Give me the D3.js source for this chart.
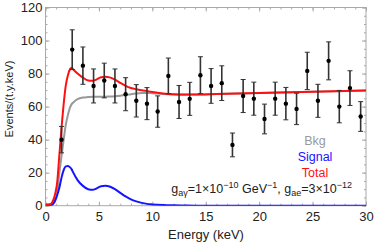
<!DOCTYPE html>
<html>
<head>
<meta charset="utf-8">
<style>
  body { margin: 0; padding: 0; background: #fff; }
  text { font-family: "Liberation Sans", Arial, sans-serif; }
</style>
</head>
<body>
<svg width="374" height="245"></svg>
<script src="https://d3js.org/d3.v7.min.js"></script>
<script>

// measured spectrum (bins of 1 keV)
var binE   = [1.5, 2.5, 3.5, 4.5, 5.5, 6.5, 7.5, 8.5, 9.5, 10.5, 11.5, 12.5, 13.5, 14.5, 15.5,
              16.5, 17.5, 18.5, 19.5, 20.5, 21.5, 22.5, 23.5, 24.5, 25.5, 26.5, 27.5, 28.5, 29.5]
var binVal = [40, 94.5, 84.8, 72.5, 75.8, 72.5, 67.5, 63.5, 61.8, 57, 78.6, 62.8, 64.7, 79, 72.5,
              74.2, 36.8, 66.4, 64.8, 52.5, 64.8, 61.8, 58.6, 81.6, 63.5, 87.7, 60, 71.2, 54]
var binErr = [8, 12, 11.3, 10.3, 10.5, 10.3, 10, 9.8, 9.7, 9.5, 10.8, 10, 10, 11.2, 10.5,
              10.5, 7.2, 10, 10, 9, 10, 9.8, 9.5, 11.3, 10, 11.5, 9.8, 10.5, 9]

// model curves
var curveE  = [0, 0.3, 0.5, 0.7, 0.9, 1.1, 1.3, 1.5, 1.7, 1.9, 2.1, 2.3, 2.45, 2.6, 3.0, 3.5, 4.0, 4.4,
               4.8, 5.2, 5.6, 6.0, 6.5, 7.0, 7.5, 8.0, 8.5, 9.0, 9.5, 10, 11, 12, 13, 14, 16, 18,
               20, 22, 24, 26, 28, 30]
var signal  = [0, 0, 0.2, 1, 3, 6.5, 11, 17, 21.5, 23.8, 24, 23.2, 22, 20, 15.5, 12, 10, 9.6,
               10.5, 11.8, 12.1, 11.6, 10, 7.8, 5.6, 3.8, 2.6, 1.7, 1.1, 0.8, 0.4, 0.2, 0.1, 0, 0, 0,
               0, 0, 0, 0, 0, 0]
var bkg     = [0.8, 0.8, 0.8, 2, 4, 8, 20, 30, 40, 49, 55, 59.5, 61.5, 62.5, 64.5, 65.5, 65.8, 66,
               66, 66, 66, 66.1, 66.3, 66.6, 67, 67.5, 67.9, 68.2, 68.3, 68.1, 67.6, 67.3, 67.2, 67.3, 67.6, 67.9,
               68.2, 68.5, 68.8, 69.1, 69.4, 69.7]
var total   = [0.8, 0.8, 1, 3, 7, 14.5, 31, 47, 61.5, 72.8, 79, 82.7, 83.5, 82.5, 80, 77.5, 75.8, 75.6,
               76.5, 77.8, 78.1, 77.7, 76.3, 74.4, 72.6, 71.3, 70.5, 69.9, 69.4, 68.9, 68, 67.5, 67.3, 67.3, 67.6, 67.9,
               68.2, 68.5, 68.8, 69.1, 69.4, 69.7]

var legendNames  = ["Bkg", "Signal", "Total"]
var legendColors = ["#999999", "#1414ff", "#ff1010"]

var xTicks = [0, 5, 10, 15, 20, 25, 30]
var yTicks = [0, 20, 40, 60, 80, 100, 120]

var svg = d3.select("svg")
var pLeft = 45.5, pRight = 366, pTop = 7.5, pBottom = 205.7

var x = d3.scaleLinear().domain([0, 30]).range([pLeft, pRight])
var y = d3.scaleLinear().domain([0, 120]).range([pBottom, pTop])

svg.append("defs").append("clipPath").attr("id", "clip")
  .append("rect").attr("x", pLeft).attr("y", pTop).attr("width", pRight - pLeft).attr("height", pBottom - pTop)

var frameColor = "#a8a8a8"

function tickAxis(axis, scale, values, size, labels, tr) {
  var g = svg.append("g").attr("transform", tr)
    .call(axis(scale).tickValues(values).tickSizeInner(size).tickSizeOuter(0).tickFormat(labels ? d3.format("d") : ""))
  g.select(".domain").remove()
  g.selectAll("line").attr("stroke", frameColor)
  g.selectAll("text").attr("fill", "#222").style("font-size", "13px")
  return g
}

var xMinor = d3.range(0, 31, 1), yMinor = d3.range(0, 121, 5)

// frame ticks, pointing inward
tickAxis(d3.axisBottom, x, xMinor, -2, false, "translate(0," + pBottom + ")")
tickAxis(d3.axisBottom, x, xTicks, -4, true, "translate(0," + pBottom + ")")
  .selectAll("text").attr("y", 6).attr("dy", "0.71em")
tickAxis(d3.axisTop, x, xMinor, -2, false, "translate(0," + pTop + ")")
tickAxis(d3.axisTop, x, xTicks, -4, false, "translate(0," + pTop + ")")
tickAxis(d3.axisLeft, y, yMinor, -2, false, "translate(" + pLeft + ",0)")
tickAxis(d3.axisLeft, y, yTicks, -4, true, "translate(" + pLeft + ",0)")
  .selectAll("text").attr("x", -3)
tickAxis(d3.axisRight, y, yMinor, -2, false, "translate(" + pRight + ",0)")
tickAxis(d3.axisRight, y, yTicks, -4, false, "translate(" + pRight + ",0)")

svg.append("rect")
  .attr("x", pLeft).attr("y", pTop).attr("width", pRight - pLeft).attr("height", pBottom - pTop)
  .attr("fill", "none").attr("stroke", frameColor).attr("stroke-width", 1)

// curves
var plot = svg.append("g").attr("clip-path", "url(#clip)")
var line = d3.line().x(d => x(d[0])).y(d => y(d[1])).curve(d3.curveMonotoneX)

;[bkg, signal, total].forEach((series, i) => {
  plot.append("path")
    .datum(curveE.map((e, j) => [e, series[j]]))
    .attr("d", line)
    .attr("fill", "none")
    .attr("stroke", legendColors[i])
    .attr("stroke-width", 2)
})

// data points with error bars
var pts = svg.append("g").selectAll("g").data(binE).enter().append("g")
pts.append("line")
  .attr("x1", d => x(d)).attr("x2", d => x(d))
  .attr("y1", (d, i) => y(binVal[i] + binErr[i])).attr("y2", (d, i) => y(binVal[i] - binErr[i]))
  .attr("stroke", "#333").attr("stroke-width", 1.6)
pts.append("line")
  .attr("x1", d => x(d) - 2.5).attr("x2", d => x(d) + 2.5)
  .attr("y1", (d, i) => y(binVal[i] + binErr[i])).attr("y2", (d, i) => y(binVal[i] + binErr[i]))
  .attr("stroke", "#333").attr("stroke-width", 1)
pts.append("line")
  .attr("x1", d => x(d) - 2.5).attr("x2", d => x(d) + 2.5)
  .attr("y1", (d, i) => y(binVal[i] - binErr[i])).attr("y2", (d, i) => y(binVal[i] - binErr[i]))
  .attr("stroke", "#333").attr("stroke-width", 1)
pts.append("circle")
  .attr("cx", d => x(d)).attr("cy", (d, i) => y(binVal[i]))
  .attr("r", 2.2).attr("fill", "#000")

// axis titles
svg.append("text").attr("x", 206).attr("y", 239).attr("text-anchor", "middle")
  .style("font-size", "13px").attr("fill", "#222").text("Energy (keV)")
svg.append("text").attr("transform", "translate(13,99) rotate(-90)").attr("text-anchor", "middle")
  .style("font-size", "11px").attr("fill", "#222").text("Events/(t.y.keV)")

// legend
svg.selectAll("text.legend").data(legendNames).enter().append("text")
  .attr("class", "legend")
  .attr("x", 315).attr("y", (d, i) => 145 + i * 16)
  .attr("text-anchor", "middle").style("font-size", "12.5px")
  .attr("fill", (d, i) => legendColors[i])
  .text(d => d)

// coupling annotation
var ann = svg.append("text").attr("x", 352).attr("y", 193).attr("text-anchor", "end")
  .style("font-size", "12.5px").attr("fill", "#222")
ann.append("tspan").text("g")
ann.append("tspan").attr("dy", 3).style("font-size", "9px").text("aγ")
ann.append("tspan").attr("dy", -3).text("=1\u00d710")
ann.append("tspan").attr("dy", -5).style("font-size", "9px").text("\u221210")
ann.append("tspan").attr("dy", 5).text(" GeV")
ann.append("tspan").attr("dy", -5).style("font-size", "9px").text("\u22121")
ann.append("tspan").attr("dy", 5).text(", g")
ann.append("tspan").attr("dy", 3).style("font-size", "9px").text("ae")
ann.append("tspan").attr("dy", -3).text("=3\u00d710")
ann.append("tspan").attr("dy", -5).style("font-size", "9px").text("\u221212")

</script>
</body>
</html>
